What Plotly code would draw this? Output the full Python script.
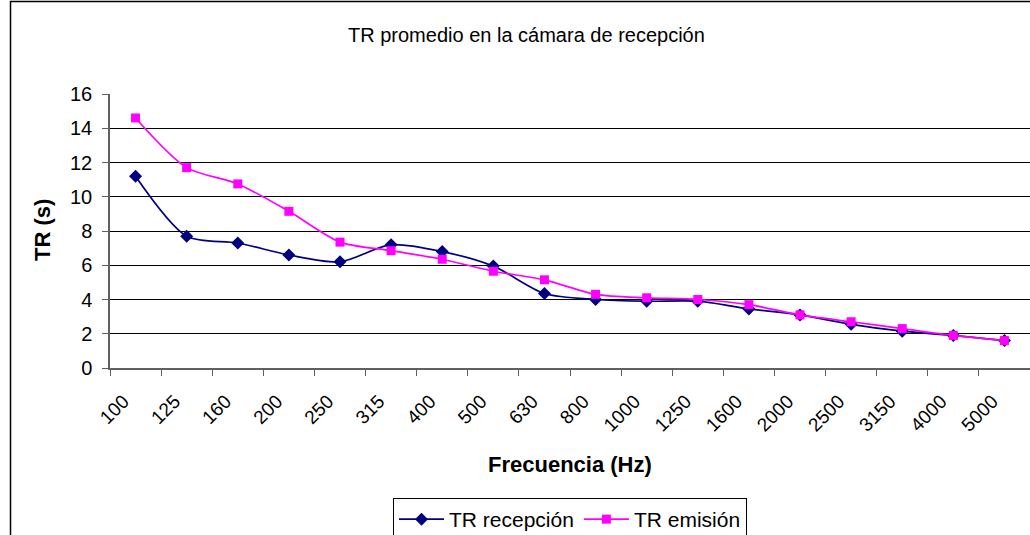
import plotly.graph_objects as go

freqs = ["100", "125", "160", "200", "250", "315", "400", "500", "630", "800",
         "1000", "1250", "1600", "2000", "2500", "3150", "4000", "5000"]
tr_recepcion = [11.2, 7.7, 7.3, 6.6, 6.2, 7.2, 6.8, 5.95, 4.35, 4.0,
                3.9, 3.9, 3.45, 3.1, 2.55, 2.15, 1.9, 1.6]
tr_emision = [14.6, 11.7, 10.75, 9.15, 7.35, 6.85, 6.35, 5.65, 5.15, 4.3,
              4.1, 4.0, 3.7, 3.1, 2.7, 2.3, 1.9, 1.6]

FONT = "Liberation Sans, Arial, sans-serif"

fig = go.Figure()
fig.add_trace(go.Scatter(
    x=freqs, y=tr_recepcion, name="TR recepción", mode="lines+markers",
    line=dict(color="#000080", width=1.7, shape="spline", smoothing=0.8),
    marker=dict(symbol="diamond", size=10, color="#000080"),
))
fig.add_trace(go.Scatter(
    x=freqs, y=tr_emision, name="TR emisión", mode="lines+markers",
    line=dict(color="#FF00FF", width=1.7, shape="spline", smoothing=0.8),
    marker=dict(symbol="square", size=9, color="#FF00FF"),
))

L, R, T, B = 110, 0, 94, 167
W, H = 1030, 535
pw = W - L - R
ph = H - T - B

def px_x(x):
    return (x - L) / pw

def px_y(y):
    return (H - B - y) / ph

fig.update_layout(
    width=W, height=H,
    margin=dict(l=L, r=R, t=T, b=B, autoexpand=False),
    paper_bgcolor="white", plot_bgcolor="white",
    font=dict(family=FONT, color="black"),
    showlegend=True,
    legend=dict(
        orientation="h", x=0.5, xanchor="center", y=px_y(498), yanchor="top",
        bordercolor="black", borderwidth=1, font=dict(size=21, family=FONT),
        itemwidth=45, tracegroupgap=0,
    ),
    xaxis=dict(
        type="category", range=[-0.5, 17.5], tickson="boundaries",
        ticks="outside", ticklen=6, tickcolor="#606060",
        showline=True, linecolor="#606060", linewidth=1.5,
        showgrid=False, tickangle=-45, tickfont=dict(size=19, family=FONT),
        ticklabelshift=-12, ticklabelstandoff=13,
    ),
    yaxis=dict(
        range=[0, 16], dtick=2, ticks="outside", ticklen=6, tickcolor="#606060",
        showline=True, linecolor="#606060", linewidth=1.5,
        showgrid=True, gridcolor="black", gridwidth=1, zeroline=False,
        tickfont=dict(size=20, family=FONT), ticklabelstandoff=6,
    ),
    annotations=[
        dict(text="TR promedio en la cámara de recepción", xref="paper", yref="paper",
             x=px_x(526), y=px_y(35), showarrow=False,
             font=dict(size=20, family=FONT), xanchor="center", yanchor="middle"),
        dict(text="<b>Frecuencia (Hz)</b>", xref="paper", yref="paper",
             x=px_x(570), y=px_y(464), showarrow=False,
             font=dict(size=22, family=FONT), xanchor="center", yanchor="middle"),
        dict(text="<b>TR (s)</b>", xref="paper", yref="paper",
             x=px_x(42), y=px_y(230), showarrow=False, textangle=-90,
             font=dict(size=22, family=FONT), xanchor="center", yanchor="middle"),
    ],
    shapes=[
        dict(type="rect", xref="paper", yref="paper",
             x0=px_x(10.5), x1=px_x(1060), y0=px_y(560), y1=px_y(1.5),
             line=dict(color="black", width=1.5), layer="below"),
    ],
)

fig.write_html("out.html", config={"displayModeBar": False},
               post_script="document.body.style.margin='0';")
